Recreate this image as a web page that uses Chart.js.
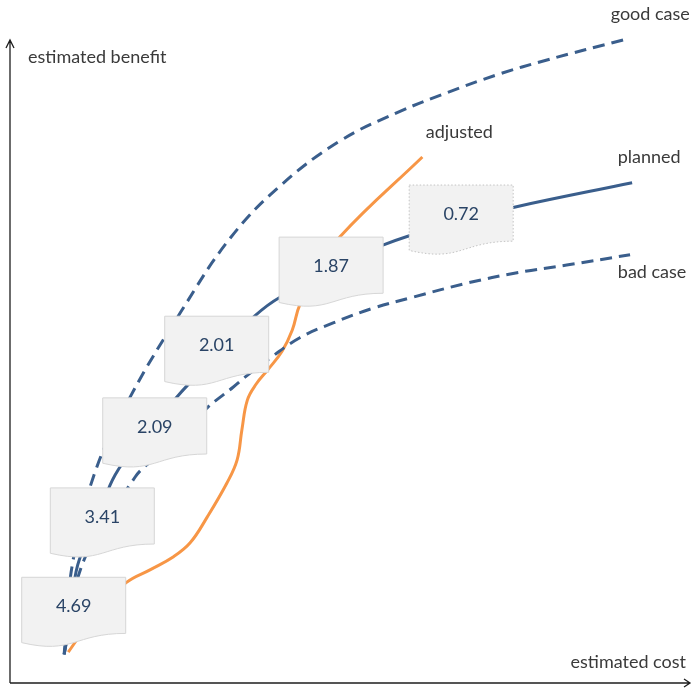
<!DOCTYPE html>
<html>
<head>
<meta charset="utf-8">
<script src="https://cdn.jsdelivr.net/npm/chart.js@4.4.1/dist/chart.umd.min.js"></script>
<style>
  html, body { margin: 0; padding: 0; background: #ffffff; }
  #c { display: block; }
</style>
</head>
<body>
<canvas id="c" width="692" height="690"></canvas>
<script>
// Cost / benefit curves (arbitrary units, 0-100 on both axes)
const goodCost     = [8.1, 9.3, 12.6, 17.8, 25.4, 32.5, 39.8, 48.6, 57.0, 64.3, 71.7, 79.0, 90.2];
const goodBenefit  = [4.5, 18.4, 32.7, 44.5, 58.0, 69.2, 77.3, 84.3, 88.7, 91.8, 94.6, 96.9, 100.0];

const plannedCost    = [8.1, 9.0, 10.1, 13.1, 15.6, 19.7, 24.5, 26.3, 31.3, 36.1, 39.8, 47.3, 54.9, 66.5, 74.2, 91.5];
const plannedBenefit = [4.4, 10.3, 18.4, 26.0, 32.4, 38.3, 44.3, 46.4, 51.9, 57.1, 60.0, 63.9, 68.1, 71.9, 74.0, 77.8];

const badCost    = [8.1, 11.0, 18.5, 20.7, 29.1, 32.9, 35.4, 38.3, 42.7, 47.6, 53.5, 59.3, 67.3, 74.6, 81.9, 91.2];
const badBenefit = [4.5, 19.1, 32.0, 34.4, 42.8, 46.0, 48.2, 50.5, 53.7, 56.0, 58.3, 60.0, 62.2, 63.8, 65.0, 66.6];

const adjustedCost    = [8.7, 12.9, 17.2, 20.7, 24.1, 26.6, 29.1, 32.0, 33.5, 34.2, 35.0, 36.3, 38.0, 40.1, 41.6, 42.7, 45.7, 48.6, 60.7];
const adjustedBenefit = [4.8, 11.0, 15.6, 17.6, 19.6, 21.8, 25.8, 31.1, 34.7, 39.4, 44.0, 46.5, 48.7, 51.6, 54.9, 58.8, 64.5, 69.4, 81.8];

// Benefit/cost ratio callouts along the planned curve
const ratioText    = ['4.69', '3.41', '2.09', '2.01', '1.87', '0.72'];
const ratioCost    = [9.5, 13.7, 21.4, 30.5, 47.3, 66.4];
const ratioBenefit = [11.0, 24.9, 38.9, 51.6, 63.9, 72.0];

const axisTitleX = 'estimated cost';
const axisTitleY = 'estimated benefit';

const BLUE = '#3a5e8c';
const ORANGE = '#f79646';
const TEXT = '#3a3a3a';
const FONT = 'Lato, "Open Sans", sans-serif';

const toPoints = (xs, ys) => xs.map((x, i) => ({ x: x, y: ys[i] }));

function curve(label, xs, ys, color, dash, tag) {
  return {
    label: label,
    data: toPoints(xs, ys),
    borderColor: color,
    borderWidth: 3,
    borderDash: dash,
    borderCapStyle: 'butt',
    pointRadius: 0,
    pointHoverRadius: 0,
    fill: false,
    tension: 0.4,
    clip: false,
    tag: tag
  };
}

// Document-shaped callout (flat top, wavy bottom)
function docBox(ctx, cx, cy, dotted) {
  const w = 104, h = 70;
  const x = cx - w / 2, y = cy - h / 2;
  ctx.save();
  ctx.beginPath();
  ctx.moveTo(x, y);
  ctx.lineTo(x + w, y);
  ctx.lineTo(x + w, y + h * 0.802);
  ctx.bezierCurveTo(x + w * 0.5, y + h * 0.802, x + w * 0.5, y + h * 1.1075, x, y + h * 0.934);
  ctx.closePath();
  ctx.fillStyle = '#f2f2f2';
  ctx.fill();
  ctx.lineWidth = 1;
  ctx.strokeStyle = dotted ? '#c4c4c4' : '#d6d6d6';
  ctx.setLineDash(dotted ? [1.5, 2] : []);
  ctx.stroke();
  ctx.restore();
}

const diagram = {
  id: 'diagram',
  beforeDatasetsDraw(chart) {
    const ctx = chart.ctx;
    const a = chart.chartArea;
    const ox = a.left + 1, oy = a.bottom;
    ctx.save();
    ctx.strokeStyle = '#1e1e1e';
    ctx.lineWidth = 1.3;
    ctx.setLineDash([]);
    ctx.beginPath();
    // vertical axis with open arrow head
    ctx.moveTo(ox, oy);
    ctx.lineTo(ox, a.top);
    ctx.moveTo(ox - 4, a.top + 8);
    ctx.lineTo(ox, a.top);
    ctx.lineTo(ox + 4, a.top + 8);
    // horizontal axis with open arrow head
    ctx.moveTo(ox, oy);
    ctx.lineTo(a.right, oy);
    ctx.moveTo(a.right - 6, oy - 4);
    ctx.lineTo(a.right, oy);
    ctx.lineTo(a.right - 6, oy + 4);
    ctx.stroke();
    ctx.restore();
  },
  afterDatasetsDraw(chart) {
    const ctx = chart.ctx;
    const a = chart.chartArea;
    const sx = chart.scales.x, sy = chart.scales.y;

    // ratio callouts
    ratioText.forEach((t, i) => {
      const cx = sx.getPixelForValue(ratioCost[i]);
      const cy = sy.getPixelForValue(ratioBenefit[i]);
      docBox(ctx, cx, cy, i === ratioText.length - 1);
      ctx.save();
      ctx.fillStyle = '#2a4466';
      ctx.font = '18px ' + FONT;
      ctx.textAlign = 'center';
      ctx.textBaseline = 'alphabetic';
      ctx.fillText(t, cx, cy);
      ctx.restore();
    });

    // series names next to the curve ends
    ctx.save();
    ctx.fillStyle = TEXT;
    ctx.font = '18px ' + FONT;
    ctx.textAlign = 'center';
    ctx.textBaseline = 'alphabetic';
    chart.data.datasets.forEach((ds, i) => {
      const pts = chart.getDatasetMeta(i).data;
      const end = pts[pts.length - 1];
      ctx.fillText(ds.label, end.x + ds.tag.dx, end.y + ds.tag.dy);
    });

    // axis titles
    ctx.textAlign = 'left';
    ctx.fillText(axisTitleY, a.left + 19, a.top + 23);
    ctx.textAlign = 'right';
    ctx.fillText(axisTitleX, a.right - 4, a.bottom - 15);
    ctx.restore();
  }
};

new Chart(document.getElementById('c'), {
  type: 'line',
  data: {
    datasets: [
      curve('good case', goodCost, goodBenefit, BLUE, [12, 7], { dx: 27, dy: -20 }),
      curve('planned', plannedCost, plannedBenefit, BLUE, [], { dx: 17, dy: -20 }),
      curve('bad case', badCost, badBenefit, BLUE, [12, 7], { dx: 22, dy: 23 }),
      curve('adjusted', adjustedCost, adjustedBenefit, ORANGE, [], { dx: 37, dy: -19 })
    ]
  },
  options: {
    responsive: false,
    animation: false,
    devicePixelRatio: 1,
    layout: { padding: { left: 9, right: 2, top: 40, bottom: 7 } },
    scales: {
      x: { type: 'linear', min: 0, max: 100, display: false },
      y: { type: 'linear', min: 0, max: 100, display: false }
    },
    plugins: {
      legend: { display: false },
      tooltip: { enabled: false }
    },
    events: []
  },
  plugins: [diagram]
});
</script>
</body>
</html>
